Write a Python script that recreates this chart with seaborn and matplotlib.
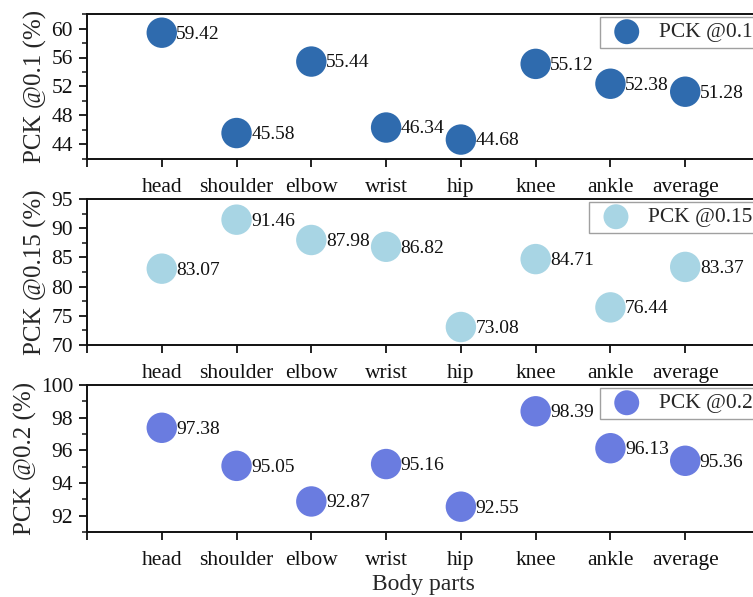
import matplotlib
matplotlib.use("Agg")
import matplotlib.pyplot as plt
import seaborn as sns
import pandas as pd
from matplotlib.ticker import MultipleLocator

parts = ["head", "shoulder", "elbow", "wrist", "hip", "knee", "ankle", "average"]
pck_01 = [59.42, 45.58, 55.44, 46.34, 44.68, 55.12, 52.38, 51.28]
pck_015 = [83.07, 91.46, 87.98, 86.82, 73.08, 84.71, 76.44, 83.37]
pck_02 = [97.38, 95.05, 92.87, 95.16, 92.55, 98.39, 96.13, 95.36]

series = [
    ("PCK @0.1", pck_01, "#2F6BAE", "PCK @0.1 (%)", (42, 62), 2, [44, 48, 52, 56, 60]),
    ("PCK @0.15", pck_015, "#A8D5E4", "PCK @0.15 (%)", (70, 95), 2.5, [70, 75, 80, 85, 90, 95]),
    ("PCK @0.2", pck_02, "#6A7CE0", "PCK @0.2 (%)", (91, 100), 1, [92, 94, 96, 98, 100]),
]

sns.set_theme(style="ticks")
plt.rcParams["font.family"] = ["Liberation Serif", "DejaVu Serif"]

fig = plt.figure(figsize=(7.53, 5.97), dpi=100)
W, H = 753.0, 597.0
left = 87 / W
right_px = 760
boxes = [(14, 159), (199, 345), (385, 532)]

for (name, vals, color, ylab, ylim, minor, yt), (top, bot) in zip(series, boxes):
    ax = fig.add_axes([left, 1 - bot / H, (right_px - 87) / W, (bot - top) / H])
    df = pd.DataFrame({"part": parts, "value": vals})
    sns.scatterplot(data=df, x="part", y="value", ax=ax, s=480, color=color,
                    edgecolor="none", label=name, zorder=3)
    for i, v in enumerate(vals):
        ax.annotate(f"{v:.2f}", (i, v), xytext=(10.5, -1), textcoords="offset points",
                    ha="left", va="center", fontsize=14, color="#111111")
    ax.set_xlim(-1, 8)
    ax.set_xticks(list(range(-1, 8)), [""] + parts)
    ax.set_ylim(*ylim)
    ax.set_yticks(yt)
    ax.yaxis.set_minor_locator(MultipleLocator(minor))
    ax.tick_params(axis="both", which="major", direction="out", length=6, width=1.3,
                   labelsize=15.5, colors="#111111", pad=4)
    ax.tick_params(axis="x", which="major", pad=7.5)
    ax.tick_params(axis="y", which="minor", direction="out", length=3.5, width=1.2)
    ax.tick_params(axis="x", which="minor", bottom=False)
    for sp in ax.spines.values():
        sp.set_linewidth(1.4)
        sp.set_color("#111111")
    ax.set_ylabel(ylab, fontsize=18, labelpad=3)
    ax.set_xlabel("")
    leg = ax.legend(loc="upper left", bbox_to_anchor=(0.762 if name != "PCK @0.15" else 0.746, 0.98),
                    fontsize=15.5, frameon=True, fancybox=False, markerscale=0.82,
                    borderpad=0.25, handletextpad=0.5, borderaxespad=0)
    leg.get_frame().set_edgecolor("#888888")
    leg.get_frame().set_linewidth(1.0)

ax.set_xlabel("Body parts", fontsize=17, labelpad=3)
fig.savefig("out.png", dpi=100)
